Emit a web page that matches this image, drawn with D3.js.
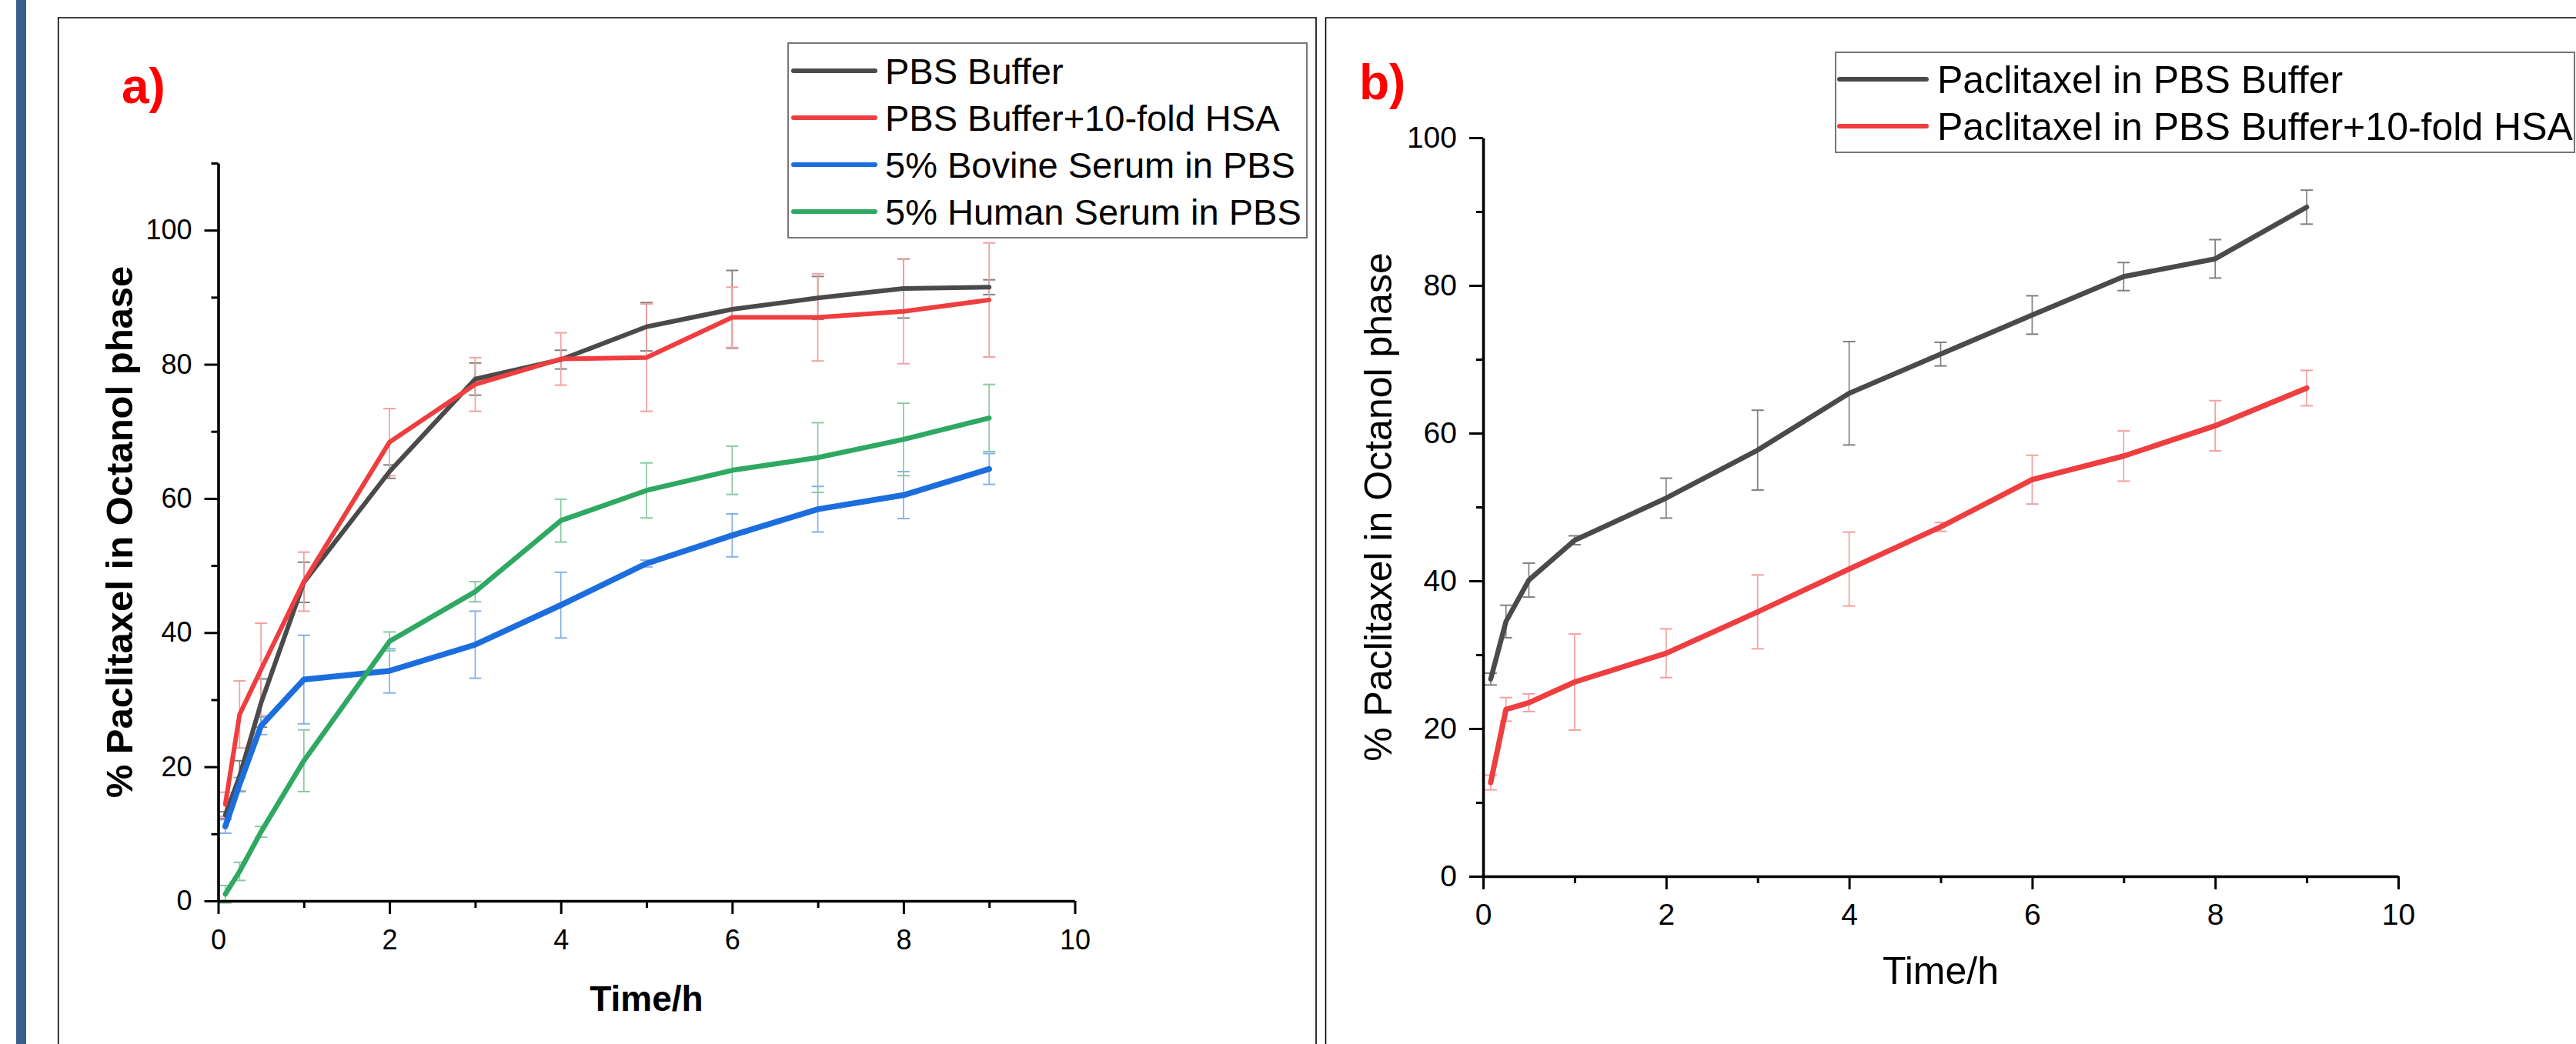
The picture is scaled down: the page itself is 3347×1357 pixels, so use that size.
<!DOCTYPE html>
<html>
<head>
<meta charset="utf-8">
<script src="https://cdn.jsdelivr.net/npm/d3@7"></script>
<style>
  html, body { margin: 0; padding: 0; background: #fff; }
  svg { display: block; }
  text { font-family: "Liberation Sans", Arial, sans-serif; }
</style>
</head>
<body>
<svg id="chart" width="3347" height="1357"></svg>
<script>
// ---------------- DATA ----------------
const timePoints = [0.083, 0.25, 0.5, 1, 2, 3, 4, 5, 6, 7, 8, 9];

// Panel a
const seriesNamesA = ["PBS Buffer", "PBS Buffer+10-fold HSA", "5% Bovine Serum in PBS", "5% Human Serum in PBS"];
const pbsBufferA      = [12.8, 18.6, 29.5, 47.5, 64.0, 77.8, 80.7, 85.6, 88.2, 89.9, 91.3, 91.5];
const pbsBufferErrA   = [0.5, 2.3, 3.6, 3.0, 1.0, 2.4, 1.4, 3.6, 5.8, 3.2, 4.4, 1.1];
const pbsHsaA         = [14.4, 27.8, 34.5, 47.6, 68.4, 77.0, 80.8, 81.0, 87.0, 87.0, 87.9, 89.6];
const pbsHsaErrA      = [1.8, 5.0, 6.9, 4.4, 5.0, 4.0, 3.9, 8.0, 4.5, 6.5, 7.8, 8.5];
const bovineA         = [11.1, 17.4, 26.1, 33.0, 34.3, 38.2, 44.1, 50.3, 54.5, 58.4, 60.5, 64.4];
const bovineErrA      = [1.0, 1.0, 1.3, 6.6, 3.3, 5.0, 4.9, 0.5, 3.2, 3.4, 3.5, 2.3];
const humanA          = [1.0, 4.4, 10.3, 20.9, 38.7, 46.1, 56.7, 61.2, 64.2, 66.1, 68.8, 72.0];
const humanErrA       = [1.3, 1.35, 0.8, 4.6, 1.4, 1.5, 3.2, 4.1, 3.6, 5.2, 5.4, 5.0];

// Panel b
const seriesNamesB = ["Paclitaxel in PBS Buffer", "Paclitaxel in PBS Buffer+10-fold HSA"];
const pbsBufferB      = [26.7, 34.5, 40.1, 45.5, 51.2, 57.7, 65.4, 70.7, 76.0, 81.2, 83.6, 90.6];
const pbsBufferErrB   = [0.8, 2.2, 2.3, 0.6, 2.7, 5.4, 7.0, 1.6, 2.6, 1.9, 2.6, 2.3];
const pbsHsaB         = [12.7, 22.6, 23.5, 26.3, 30.2, 35.8, 41.6, 47.3, 53.7, 56.9, 61.0, 66.1];
const pbsHsaErrB      = [1.0, 1.6, 1.2, 6.5, 3.3, 5.0, 5.0, 0.6, 3.3, 3.4, 3.4, 2.4];

const xTicks = [0, 2, 4, 6, 8, 10];
const xMinorTicks = [1, 3, 5, 7, 9];
const yTicks = [0, 20, 40, 60, 80, 100];
const yMinorTicksA = [10, 30, 50, 70, 90, 110];
const yMinorTicksB = [10, 30, 50, 70, 90];

// ---------------- STYLE ----------------
const FONT = '"Liberation Sans", Arial, sans-serif';
const colors = {
  black: "#4a4a4a", blackErr: "#808080",
  red: "#ef3e40", redErr: "#f4a0a0",
  blue: "#1c6ddd", blueErr: "#86b0ec",
  green: "#2fa862", greenErr: "#88caa2"
};

const svg = d3.select("#chart");
svg.append("rect").attr("width", 3347).attr("height", 1357).attr("fill", "#fff");

// left decorative strip
svg.append("rect").attr("x", 21).attr("y", 0).attr("width", 13).attr("height", 1357).attr("fill", "#3a5e8c");

// panel frames
svg.append("path").attr("d", "M75.7,1357 V23 H1710 V1357").attr("fill", "none").attr("stroke", "#000").attr("stroke-width", 1.6);
svg.append("path").attr("d", "M1722.5,1357 V23 H3347").attr("fill", "none").attr("stroke", "#000").attr("stroke-width", 1.6);

function drawPanel(cfg) {
  const g = svg.append("g");
  const x = d3.scaleLinear().domain([0, 10]).range(cfg.xRange);
  const y = d3.scaleLinear().domain(cfg.yDomain).range(cfg.yRange);

  // error bars
  cfg.series.forEach(s => {
    const eg = g.append("g");
    timePoints.forEach((t, i) => {
      const cx = x(t), lo = y(s.values[i] - s.err[i]), hi = y(s.values[i] + s.err[i]);
      eg.append("line").attr("x1", cx).attr("x2", cx).attr("y1", lo).attr("y2", hi)
        .attr("stroke", s.errColor).attr("stroke-width", 1.7);
      [lo, hi].forEach(yy => eg.append("line").attr("x1", cx - 8).attr("x2", cx + 8).attr("y1", yy).attr("y2", yy)
        .attr("stroke", s.errColor).attr("stroke-width", 2));
    });
  });

  // lines
  const line = d3.line().x((d, i) => x(timePoints[i])).y(d => y(d));
  cfg.series.forEach(s => {
    g.append("path").datum(s.values).attr("d", line).attr("fill", "none")
      .attr("stroke", s.color).attr("stroke-width", s.width)
      .attr("stroke-linejoin", "round").attr("stroke-linecap", "round");
  });

  // axes
  const x0 = cfg.xRange[0], y0 = cfg.yRange[0];
  const yAxis = g.append("g").attr("transform", `translate(${x0},0)`)
    .call(d3.axisLeft(y).tickValues(yTicks).tickSize(18).tickSizeOuter(0).tickPadding(16).tickFormat(d3.format("d")));
  const yMinor = g.append("g").attr("transform", `translate(${x0},0)`)
    .call(d3.axisLeft(y).tickValues(cfg.yMinor).tickSize(9).tickFormat(""));
  yMinor.select(".domain").remove();
  const xAxis = g.append("g").attr("transform", `translate(0,${y0})`)
    .call(d3.axisBottom(x).tickValues(xTicks).tickSize(17).tickSizeOuter(0).tickPadding(cfg.xPad).tickFormat(d3.format("d")));
  const xMinor = g.append("g").attr("transform", `translate(0,${y0})`)
    .call(d3.axisBottom(x).tickValues(xMinorTicks).tickSize(9).tickFormat(""));
  xMinor.select(".domain").remove();

  [yAxis, yMinor, xAxis, xMinor].forEach(a => {
    a.selectAll(".tick line").attr("stroke", "#000").attr("stroke-width", 3);
    a.selectAll(".domain").attr("stroke", "#000").attr("stroke-width", 3.6);
    a.selectAll("text").attr("font-family", FONT).attr("font-size", cfg.tickFont).attr("fill", "#000");
  });

  // axis titles
  g.append("text").attr("transform", `translate(${cfg.yTitleX},${(cfg.yRange[0] + cfg.yRange[1]) / 2}) rotate(-90)`)
    .attr("text-anchor", "middle").attr("font-family", FONT).attr("font-size", cfg.yTitleSize)
    .attr("font-weight", cfg.bold ? "bold" : "normal").text("% Paclitaxel in Octanol phase");
  g.append("text").attr("x", (cfg.xRange[0] + cfg.xRange[1]) / 2).attr("y", cfg.xTitleY)
    .attr("text-anchor", "middle").attr("font-family", FONT).attr("font-size", cfg.xTitleSize)
    .attr("font-weight", cfg.bold ? "bold" : "normal").text("Time/h");

  // panel letter
  g.append("text").attr("x", cfg.letterX).attr("y", cfg.letterY).attr("font-family", FONT)
    .attr("font-size", 64).attr("font-weight", "bold").attr("fill", "#ff0000").text(cfg.letter);

  // legend
  const L = cfg.legend;
  g.append("rect").attr("x", L.x).attr("y", L.y).attr("width", L.w).attr("height", L.h)
    .attr("fill", "#fff").attr("stroke", "#777").attr("stroke-width", 2);
  cfg.series.forEach((s, i) => {
    const yy = L.firstY + i * L.step;
    g.append("line").attr("x1", L.lx1).attr("x2", L.lx2).attr("y1", yy).attr("y2", yy)
      .attr("stroke", s.color).attr("stroke-width", 6).attr("stroke-linecap", "round");
    g.append("text").attr("x", L.tx).attr("y", yy).attr("dy", "0.36em").attr("font-family", FONT)
      .attr("font-size", L.font).attr("fill", "#000").text(s.name);
  });
}

drawPanel({
  xRange: [283.5, 1396.5], yDomain: [0, 110], yRange: [1171, 212],
  yMinor: yMinorTicksA, xPad: 20, tickFont: 36,
  yTitleX: 172, yTitleSize: 49, xTitleY: 1314, xTitleSize: 46, bold: true,
  letter: "a)", letterX: 158, letterY: 134,
  legend: { x: 1024, y: 56, w: 674, h: 253, firstY: 92, step: 61, lx1: 1031, lx2: 1137, tx: 1150, font: 47 },
  series: [
    { name: seriesNamesA[0], values: pbsBufferA, err: pbsBufferErrA, color: colors.black, errColor: colors.blackErr, width: 6 },
    { name: seriesNamesA[1], values: pbsHsaA, err: pbsHsaErrA, color: colors.red, errColor: colors.redErr, width: 6 },
    { name: seriesNamesA[2], values: bovineA, err: bovineErrA, color: colors.blue, errColor: colors.blueErr, width: 7.5 },
    { name: seriesNamesA[3], values: humanA, err: humanErrA, color: colors.green, errColor: colors.greenErr, width: 6.5 }
  ]
});

drawPanel({
  xRange: [1927, 3116], yDomain: [0, 100], yRange: [1139, 179],
  yMinor: yMinorTicksB, xPad: 18, tickFont: 39,
  yTitleX: 1808, yTitleSize: 50, xTitleY: 1279, xTitleSize: 50, bold: false,
  letter: "b)", letterX: 1766, letterY: 129,
  legend: { x: 2385, y: 68, w: 960, h: 130, firstY: 103, step: 61, lx1: 2390, lx2: 2503, tx: 2517, font: 50 },
  series: [
    { name: seriesNamesB[0], values: pbsBufferB, err: pbsBufferErrB, color: colors.black, errColor: colors.blackErr, width: 6.5 },
    { name: seriesNamesB[1], values: pbsHsaB, err: pbsHsaErrB, color: colors.red, errColor: colors.redErr, width: 7 }
  ]
});
</script>
</body>
</html>
